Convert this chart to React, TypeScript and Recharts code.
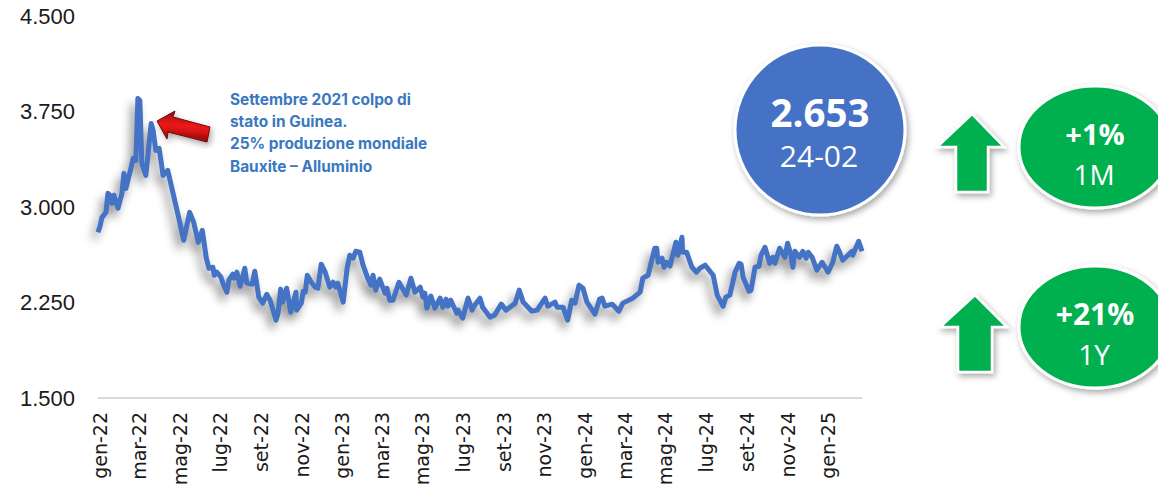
import { Line, LineChart, XAxis, YAxis } from 'recharts';

const tickDays = [0, 59, 120, 181, 243, 304, 365, 424, 485, 546, 608, 669, 730, 790, 851, 912, 974, 1035, 1096];
const tickLabels = [
  'gen-22', 'mar-22', 'mag-22', 'lug-22', 'set-22', 'nov-22', 'gen-23', 'mar-23', 'mag-23', 'lug-23',
  'set-23', 'nov-23', 'gen-24', 'mar-24', 'mag-24', 'lug-24', 'set-24', 'nov-24', 'gen-25',
];
const yTicks = [1500, 2250, 3000, 3750, 4500];
const yLabels = ['1.500', '2.250', '3.000', '3.750', '4.500'];

// days since start of jan 2022
const days = [
  0, 3, 6, 12, 15, 18, 21, 24, 30, 36, 39, 42, 48, 53, 57, 60, 63, 66, 72, 80, 83, 87, 92, 98, 105, 113, 120, 129, 138,
  144, 151, 157, 163, 167, 173, 175, 179, 185, 188, 194, 197, 203, 205, 209, 214, 221, 224, 232, 236, 242, 248, 254,
  259, 268, 271, 275, 278, 284, 290, 298, 299, 306, 309, 312, 315, 321, 327, 331, 336, 342, 349, 354, 358, 361, 369,
  375, 379, 384, 388, 394, 399, 406, 411, 414, 418, 424, 432, 435, 439, 444, 453, 464, 471, 477, 485, 489, 492, 495,
  501, 507, 515, 519, 524, 527, 531, 540, 542, 549, 557, 563, 567, 575, 579, 590, 597, 607, 614, 628, 634, 640, 653,
  661, 673, 677, 688, 691, 700, 707, 713, 718, 724, 730, 736, 748, 755, 759, 763, 774, 784, 790, 805, 816, 820, 828,
  838, 841, 843, 849, 852, 856, 861, 865, 870, 873, 879, 880, 886, 894, 901, 906, 914, 926, 932, 941, 945, 951, 959,
  965, 968, 971, 980, 983, 989, 995, 998, 1004, 1011, 1016, 1019, 1026, 1034, 1038, 1043, 1046, 1049, 1056, 1061, 1066,
  1069, 1075, 1082, 1090, 1099, 1106, 1112, 1115, 1121, 1135, 1136, 1145, 1150,
];
const prices = [
  2801, 2849, 2919, 2958, 3107, 3092, 3029, 3092, 2990, 3107, 3264, 3146, 3272, 3382, 3366, 3852, 3836, 3342, 3248, 3656,
  3601, 3444, 3460, 3248, 3288, 3107, 2950, 2739, 2958, 2880, 2723, 2817, 2598, 2519, 2527, 2464, 2488, 2449, 2402, 2331,
  2425, 2472, 2441, 2488, 2378, 2519, 2402, 2394, 2496, 2292, 2245, 2315, 2268, 2112, 2166, 2355, 2253, 2362, 2174, 2331,
  2190, 2245, 2339, 2331, 2464, 2409, 2370, 2362, 2551, 2488, 2370, 2409, 2370, 2402, 2253, 2519, 2621, 2598, 2652, 2645,
  2543, 2441, 2386, 2464, 2347, 2433, 2323, 2362, 2268, 2268, 2409, 2308, 2441, 2331, 2370, 2292, 2323, 2206, 2300, 2206,
  2284, 2213, 2276, 2221, 2268, 2166, 2190, 2127, 2284, 2190, 2229, 2284, 2213, 2135, 2151, 2237, 2190, 2245, 2347, 2253,
  2182, 2190, 2284, 2221, 2253, 2213, 2213, 2112, 2268, 2245, 2386, 2362, 2253, 2159, 2276, 2284, 2221, 2237, 2182, 2245,
  2284, 2331, 2441, 2464, 2676, 2676, 2566, 2598, 2527, 2566, 2535, 2621, 2723, 2621, 2762, 2645, 2645, 2527, 2488, 2519,
  2543, 2464, 2308, 2221, 2292, 2308, 2488, 2558, 2551, 2449, 2339, 2347, 2527, 2535, 2621, 2684, 2558, 2605, 2558, 2676,
  2605, 2715, 2621, 2527, 2652, 2605, 2652, 2598, 2645, 2605, 2504, 2566, 2488, 2566, 2692, 2660, 2582, 2652, 2621, 2731,
  2652,
];

const chartData = days.map((day, i) => ({ day, price: prices[i] }));

const noteLines = ['Settembre 2021 colpo di', 'stato in Guinea.', '25% produzione mondiale', 'Bauxite – Alluminio'];

const blue = '#4472c4';
const green = '#00b050';

function MonthTick({ x, y, index }: any) {
  return (
    <text
      transform={`translate(${x + 9},${y}) rotate(-90)`}
      textAnchor="end"
      fontFamily="DejaVu Sans, sans-serif"
      fontSize={19}
      fill="#1a1a1a"
    >
      {tickLabels[index]}
    </text>
  );
}

function UpArrow({ points }: { points: string }) {
  return <polygon points={points} fill={green} stroke="#fff" strokeWidth={2.5} filter="url(#softShadow)" />;
}

function Badge({ cy, big, bigSize, small }: { cy: number; big: string; bigSize: number; small: string }) {
  return (
    <g>
      <ellipse cx={1095} cy={cy} rx={76} ry={61} fill={green} stroke="#fff" strokeWidth={3} filter="url(#softShadow)" />
      <text x={1095} y={cy - 2} textAnchor="middle" fontFamily="Open Sans, sans-serif" fontWeight={700} fontSize={bigSize} fill="#fff">
        {big}
      </text>
      <text x={1094} y={cy + 38} textAnchor="middle" fontFamily="Open Sans, sans-serif" fontSize={28} fill="#fff">
        {small}
      </text>
    </g>
  );
}

export default function App() {
  return (
    <div style={{ position: 'absolute', left: 0, top: 0, width: 1158, height: 485, overflow: 'hidden', background: '#fff' }}>
      <style>{`body{margin:0}.recharts-line-curve{filter:drop-shadow(-4px 7px 5px rgba(0,0,0,.42))}`}</style>
      <LineChart width={1158} height={485} data={chartData} margin={{ top: 16, right: 296, bottom: 0, left: 0 }}>
        <XAxis
          dataKey="day"
          type="number"
          domain={[0, 1150]}
          ticks={tickDays}
          interval={0}
          height={87}
          tickLine={false}
          axisLine={{ stroke: '#d9d9d9', strokeWidth: 2 }}
          tick={<MonthTick />}
          tickMargin={8}
        />
        <YAxis
          type="number"
          domain={[1500, 4500]}
          ticks={yTicks}
          width={98}
          axisLine={false}
          tickLine={false}
          tickMargin={17}
          tick={{ fill: '#1a1a1a', fontSize: 22, fontFamily: 'Liberation Sans, Arial, sans-serif' }}
          tickFormatter={(v: number) => yLabels[yTicks.indexOf(v)]}
        />
        <Line
          dataKey="price"
          type="linear"
          stroke={blue}
          strokeWidth={5}
          strokeLinejoin="round"
          dot={false}
          activeDot={false}
          isAnimationActive={false}
        />
      </LineChart>
      <svg width={1158} height={485} style={{ position: 'absolute', left: 0, top: 0 }}>
        <defs>
          <filter id="softShadow" x="-20%" y="-20%" width="140%" height="140%">
            <feDropShadow dx={2} dy={3} stdDeviation={3} floodColor="#000" floodOpacity={0.35} />
          </filter>
          <linearGradient id="redShaft" x1="0.35" y1="0" x2="0.2" y2="1">
            <stop offset="0" stopColor="#8c0f0f" />
            <stop offset="0.45" stopColor="#f01616" />
            <stop offset="1" stopColor="#7d0a0a" />
          </linearGradient>
        </defs>

        <polygon
          points="157,121 175,111 173,117 210,127 207,142 168,132 167,139"
          fill="url(#redShaft)"
          stroke="#6e0808"
          strokeWidth={1}
          filter="url(#softShadow)"
        />
        {noteLines.map((line, i) => (
          <text
            key={line}
            x={230}
            y={105 + i * 22.2}
            fontFamily="Inter, sans-serif"
            fontWeight={700}
            fontSize={15.4}
            fill="#3a78bf"
          >
            {line}
          </text>
        ))}

        <circle cx={820} cy={130} r={85} fill={blue} stroke="#fff" strokeWidth={3} filter="url(#softShadow)" />
        <text x={820} y={127} textAnchor="middle" fontFamily="Open Sans, sans-serif" fontWeight={700} fontSize={38.5} fill="#fff">
          2.653
        </text>
        <text x={819} y={167} textAnchor="middle" fontFamily="Open Sans, sans-serif" fontSize={30} fill="#fff">
          24-02
        </text>

        <UpArrow points="972,114 1004,147 988,147 988,192 956,192 956,147 937,147" />
        <UpArrow points="975,295 1007,327 992,327 992,372 958,372 958,327 940,327" />
        <Badge cy={147} big="+1%" bigSize={29} small="1M" />
        <Badge cy={327} big="+21%" bigSize={30} small="1Y" />
      </svg>
    </div>
  );
}
